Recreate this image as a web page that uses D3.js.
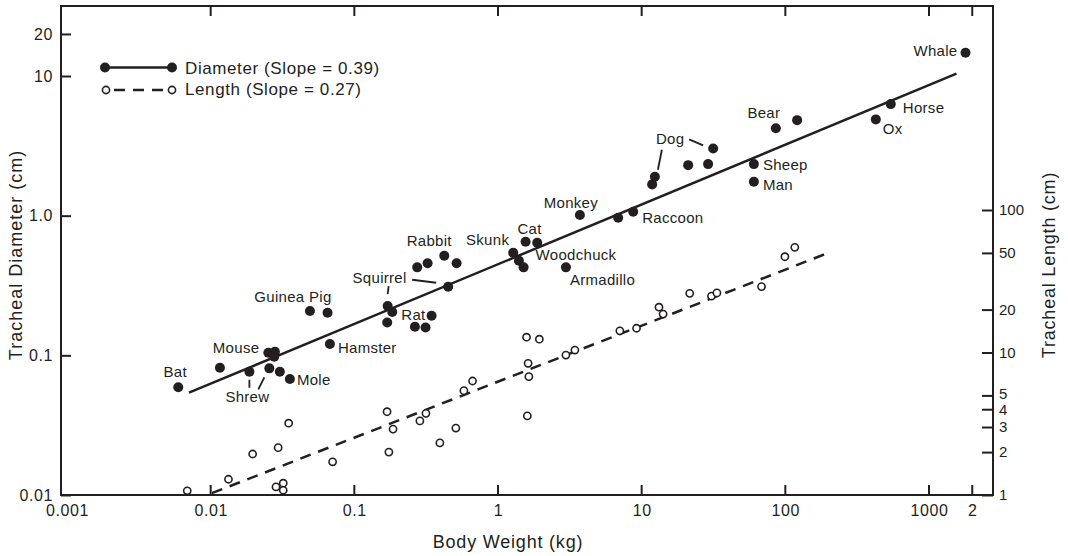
<!DOCTYPE html>
<html>
<head>
<meta charset="utf-8">
<script src="https://cdn.jsdelivr.net/npm/d3@7"></script>
<style>
  body { margin: 0; background: #fff; }
  text { font-family: "Liberation Sans", Arial, Helvetica, sans-serif; fill: #231f20; }
</style>
</head>
<body>
<svg id="chart" width="1068" height="556"></svg>
<script>
// body weight (kg) vs tracheal diameter (cm), filled dots
var diamWeight = [0.00595, 0.0116, 0.0186, 0.0252, 0.0280, 0.0277, 0.0256, 0.0303, 0.0356,
    0.0491, 0.0651, 0.0676, 0.1706, 0.1836, 0.1694, 0.264, 0.313, 0.345,
    0.274, 0.3236, 0.4227, 0.515, 0.450, 1.276, 1.398, 1.507, 1.556, 1.875,
    2.97, 3.715, 6.86, 8.73, 12.36, 11.83, 21.07, 29.0, 31.45, 60.4, 60.4,
    85.9, 120.8, 426.5, 542, 1795]
var diamValue = [0.0590, 0.0815, 0.0763, 0.1044, 0.106, 0.0977, 0.0807, 0.0763, 0.0676,
    0.2075, 0.2018, 0.1205, 0.2254, 0.204, 0.172, 0.160, 0.158, 0.192,
    0.4266, 0.4557, 0.5164, 0.4557, 0.3097, 0.5428, 0.4753, 0.4266, 0.650, 0.640,
    0.4266, 1.01, 0.966, 1.067, 1.90, 1.675, 2.30, 2.34, 3.03, 2.34, 1.749,
    4.22, 4.83, 4.89, 6.29, 14.66]

// body weight (kg) vs tracheal length (cm), open circles
var lenWeight = [0.00687, 0.0133, 0.0196, 0.0295, 0.0349, 0.0285, 0.0320, 0.0320, 0.0706,
    0.169, 0.186, 0.174, 0.286, 0.315, 0.394, 0.509, 0.579, 0.665,
    1.58, 1.94, 1.62, 1.64, 1.60, 2.97, 3.43, 7.05, 9.21, 13.2, 14.1,
    21.6, 30.6, 33.4, 68.3, 99.3, 116.4]
var lenValue = [1.07, 1.29, 1.94, 2.15, 3.19, 1.14, 1.21, 1.08, 1.71,
    3.84, 2.90, 2.00, 3.31, 3.74, 2.32, 2.95, 5.40, 6.31,
    12.8, 12.4, 8.40, 6.77, 3.59, 9.6, 10.4, 14.2, 14.8, 20.8, 18.6,
    26.0, 24.9, 26.2, 29.0, 47.0, 54.7]

// fitted lines (end points)
var diamFitWeight = [0.00706, 1553]
var diamFitValue = [0.054, 10.4]
var lenFitWeight = [0.0102, 204]
var lenFitValue = [1.03, 50.5]

// axis ticks
var xTicks = [0.001, 0.01, 0.1, 1, 10, 100, 1000, 2000]
var xTickLabels = ["0.001", "0.01", "0.1", "1", "10", "100", "1000", "2"]
var diamTicks = [0.01, 0.1, 1, 10, 20]
var diamTickLabels = ["0.01", "0.1", "1.0", "10", "20"]
var lenTicks = [1, 2, 3, 4, 5, 10, 20, 50, 100]

// animal names, tied to a dot index
var labelText = ["Bat", "Mouse", "Shrew", "Mole", "Hamster", "Guinea Pig", "Squirrel", "Rat",
    "Rabbit", "Skunk", "Cat", "Woodchuck", "Armadillo", "Monkey", "Raccoon", "Dog",
    "Sheep", "Man", "Bear", "Horse", "Ox", "Whale"]
var labelPoint = [0, 3, 2, 8, 11, 9, 12, 17, 20, 23, 26, 25, 28, 29, 31, 32, 37, 38, 39, 42, 41, 43]

var ink = "#231f20"
var svg = d3.select("#chart")
var frameL = 61, frameR = 993, frameT = 6, frameB = 495

var x = d3.scaleLog().domain([0.001, 1000]).range([67, 929])
var yD = d3.scaleLog().domain([0.01, 10]).range([frameB, 76])
var yL = d3.scaleLog().domain([1, 100]).range([frameB, 210])

// label placement relative to its dot
var labelPos = {
    "Bat": [-3, -10, "middle"], "Mouse": [-9, 0, "end"], "Shrew": [-24, 30, "start"],
    "Mole": [7, 6, "start"], "Hamster": [8, 9, "start"], "Guinea Pig": [-17, -9, "middle"],
    "Squirrel": [19, -23, "end"], "Rat": [-6, 4, "end"], "Rabbit": [-15, -10, "middle"],
    "Skunk": [-4, -8, "end"], "Cat": [4, -8, "middle"], "Woodchuck": [12, -7, "start"],
    "Armadillo": [4, 18, "start"], "Monkey": [-9, -7, "middle"], "Raccoon": [9, 11, "start"],
    "Dog": [1, -33, "start"], "Sheep": [9, 6, "start"], "Man": [9, 8, "start"],
    "Bear": [-12, -10, "middle"], "Horse": [12, 9, "start"], "Ox": [7, 15, "start"],
    "Whale": [-8, 3, "end"]
}
// leader ticks: dot index, then offsets from the dot
var leaders = [
    [2, 0, 8, 0, 16], [6, -11, 21, -5, 9],
    [12, 1, -20, 0, -12], [22, -36, -7, -12, -4],
    [32, 7, -27, 3, -7], [36, -24, -9, -10, -3]
]

// frame
svg.append("rect")
    .attr("x", frameL).attr("y", frameT)
    .attr("width", frameR - frameL).attr("height", frameB - frameT)
    .attr("fill", "none").attr("stroke", ink).attr("stroke-width", 2)

var styleAxis = function(g, size) {
    g.select(".domain").remove()
    g.selectAll(".tick line").attr("stroke", ink).attr("stroke-width", 2)
    g.selectAll(".tick text").attr("fill", ink)
        .style("font-size", size + "px").style("letter-spacing", "0.6px")
}

// x labels from the axis, tick marks drawn top and bottom
var xAxis = svg.append("g")
    .attr("transform", "translate(0," + frameB + ")")
    .call(d3.axisBottom(x).tickValues(xTicks)
        .tickFormat(function(d, i) { return xTickLabels[i] })
        .tickSize(0).tickPadding(10))
styleAxis(xAxis, 16)
xAxis.selectAll(".tick line").remove()

var xMarks = svg.append("g").attr("stroke", ink).attr("stroke-width", 2)
xMarks.selectAll(".xb").data(xTicks.slice(1)).enter().append("line")
    .attr("x1", function(d) { return x(d) }).attr("x2", function(d) { return x(d) })
    .attr("y1", frameB).attr("y2", frameB - 10)
xMarks.selectAll(".xt").data(xTicks.slice(1)).enter().append("line")
    .attr("x1", function(d) { return x(d) }).attr("x2", function(d) { return x(d) })
    .attr("y1", frameT).attr("y2", frameT + 10)

var yAxis = svg.append("g")
    .attr("transform", "translate(" + frameL + ",0)")
    .call(d3.axisLeft(yD).tickValues(diamTicks)
        .tickFormat(function(d, i) { return diamTickLabels[i] })
        .tickSizeInner(-10).tickSizeOuter(0).tickPadding(8))
styleAxis(yAxis, 16)

var yRight = svg.append("g")
    .attr("transform", "translate(" + frameR + ",0)")
    .call(d3.axisRight(yL).tickValues(lenTicks).tickFormat(d3.format("d"))
        .tickSizeInner(-11).tickSizeOuter(0).tickPadding(6))
styleAxis(yRight, 15)
yRight.selectAll(".tick text").style("letter-spacing", "0px")
    .attr("y", function(d) { return d === 5 ? -2 : 0 })

// fitted lines
var diamLine = d3.line().x(function(d) { return x(d[0]) }).y(function(d) { return yD(d[1]) })
var lenLine = d3.line().x(function(d) { return x(d[0]) }).y(function(d) { return yL(d[1]) })

svg.append("path")
    .attr("d", diamLine(d3.zip(diamFitWeight, diamFitValue)))
    .attr("fill", "none").attr("stroke", ink).attr("stroke-width", 2.5)

svg.append("path")
    .attr("d", lenLine(d3.zip(lenFitWeight, lenFitValue)))
    .attr("fill", "none").attr("stroke", ink).attr("stroke-width", 2.5)
    .attr("stroke-dasharray", "11,8")

// leader ticks
svg.append("g").selectAll("line")
    .data(leaders)
    .enter().append("line")
    .attr("x1", function(d) { return x(diamWeight[d[0]]) + d[1] })
    .attr("y1", function(d) { return yD(diamValue[d[0]]) + d[2] })
    .attr("x2", function(d) { return x(diamWeight[d[0]]) + d[3] })
    .attr("y2", function(d) { return yD(diamValue[d[0]]) + d[4] })
    .attr("stroke", ink).attr("stroke-width", 1.8)

// open circles
svg.append("g").selectAll("circle")
    .data(d3.zip(lenWeight, lenValue))
    .enter().append("circle")
    .attr("cx", function(d) { return x(d[0]) })
    .attr("cy", function(d) { return yL(d[1]) })
    .attr("r", 3.6)
    .attr("fill", "#fff").attr("stroke", ink).attr("stroke-width", 1.6)

// filled dots
svg.append("g").selectAll("circle")
    .data(d3.zip(diamWeight, diamValue))
    .enter().append("circle")
    .attr("cx", function(d) { return x(d[0]) })
    .attr("cy", function(d) { return yD(d[1]) })
    .attr("r", 5)
    .attr("fill", ink)

// animal names
svg.append("g").selectAll("text")
    .data(labelText)
    .enter().append("text")
    .attr("x", function(d, i) { return x(diamWeight[labelPoint[i]]) + labelPos[d][0] })
    .attr("y", function(d, i) { return yD(diamValue[labelPoint[i]]) + labelPos[d][1] })
    .attr("text-anchor", function(d) { return labelPos[d][2] })
    .style("font-size", "15px").style("letter-spacing", "0.3px")
    .text(function(d) { return d })

// legend
var legend = svg.append("g")
legend.append("line").attr("x1", 105).attr("x2", 172).attr("y1", 67.5).attr("y2", 67.5)
    .attr("stroke", ink).attr("stroke-width", 2.5)
legend.selectAll(".ld").data([105, 172]).enter().append("circle")
    .attr("cx", function(d) { return d }).attr("cy", 67.5).attr("r", 5).attr("fill", ink)
legend.append("line").attr("x1", 110).attr("x2", 168).attr("y1", 90).attr("y2", 90)
    .attr("stroke", ink).attr("stroke-width", 2.5).attr("stroke-dasharray", "11,8")
    .attr("stroke-dashoffset", -4)
legend.selectAll(".lo").data([106, 172]).enter().append("circle")
    .attr("cx", function(d) { return d }).attr("cy", 90).attr("r", 3.6)
    .attr("fill", "#fff").attr("stroke", ink).attr("stroke-width", 1.6)
legend.append("text").attr("x", 185).attr("y", 74)
    .style("font-size", "17px").style("letter-spacing", "0.6px")
    .text("Diameter (Slope = 0.39)")
legend.append("text").attr("x", 185).attr("y", 94.5)
    .style("font-size", "17px").style("letter-spacing", "0.6px")
    .text("Length (Slope = 0.27)")

// axis titles
svg.append("text")
    .attr("x", 508).attr("y", 548)
    .attr("text-anchor", "middle")
    .style("font-size", "18px").style("letter-spacing", "0.8px")
    .text("Body Weight (kg)")

svg.append("text")
    .attr("transform", "translate(22,255) rotate(-90)")
    .attr("text-anchor", "middle")
    .style("font-size", "18px").style("letter-spacing", "1px")
    .text("Tracheal Diameter (cm)")

svg.append("text")
    .attr("transform", "translate(1055,265) rotate(-90)")
    .attr("text-anchor", "middle")
    .style("font-size", "18px").style("letter-spacing", "0.8px")
    .text("Tracheal Length (cm)")
</script>
</body>
</html>
